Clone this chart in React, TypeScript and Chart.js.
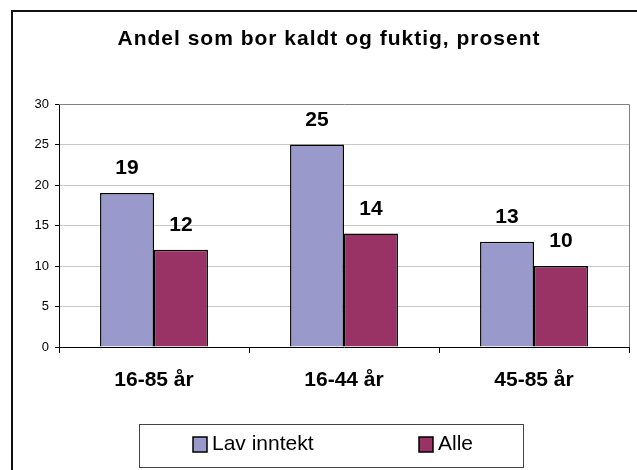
import React, { useEffect, useRef } from "react";
import { Chart, registerables } from "chart.js";

Chart.register(...registerables);

const TITLE = "Andel som bor kaldt og fuktig, prosent";
const categories = ["16-85 år", "16-44 år", "45-85 år"];
const seriesNames = ["Lav inntekt", "Alle"];
const lavInntekt = [19, 25, 13];
const alle = [12, 14, 10];
const seriesColors = ["#9999CC", "#993366"];
const yTicks = [0, 5, 10, 15, 20, 25, 30];

const FONT = "'Liberation Sans', Arial, sans-serif";

const decorPlugin = {
  id: "decor",
  afterDraw(chart: any) {
    const ctx = chart.ctx as CanvasRenderingContext2D;
    const area = chart.chartArea;
    ctx.save();

    // plot border top & right
    ctx.strokeStyle = "#808080";
    ctx.lineWidth = 1;
    ctx.beginPath();
    ctx.moveTo(area.left, area.top + 0.5);
    ctx.lineTo(area.right + 0.5, area.top + 0.5);
    ctx.lineTo(area.right + 0.5, area.bottom);
    ctx.stroke();

    // title
    ctx.fillStyle = "#000";
    ctx.font = `bold 21px ${FONT}`;
    (ctx as any).letterSpacing = "1px";
    ctx.textAlign = "center";
    ctx.textBaseline = "alphabetic";
    ctx.fillText(TITLE, 329, 45);
    (ctx as any).letterSpacing = "0px";

    // data labels
    ctx.font = `bold 21px ${FONT}`;
    chart.data.datasets.forEach((ds: any, di: number) => {
      const meta = chart.getDatasetMeta(di);
      meta.data.forEach((el: any, i: number) => {
        ctx.fillText(String(ds.data[i]), el.x, el.y - 19);
      });
    });

    // legend
    ctx.strokeStyle = "#444";
    ctx.lineWidth = 1;
    ctx.strokeRect(139.5, 424.5, 384, 43);
    const itemX = [193, 419];
    ctx.font = `21px ${FONT}`;
    ctx.textAlign = "left";
    chart.data.datasets.forEach((ds: any, di: number) => {
      const x = itemX[di];
      ctx.fillStyle = ds.backgroundColor;
      ctx.fillRect(x, 437, 14, 15);
      ctx.strokeStyle = "#000";
      ctx.lineWidth = 1.5;
      ctx.strokeRect(x, 437, 14, 15);
      ctx.fillStyle = "#000";
      ctx.fillText(ds.label, x + 19, 450);
    });

    // outer frame
    ctx.fillStyle = "#111";
    ctx.fillRect(11, 10, 2, 460);
    ctx.fillRect(11, 10, 626, 2);

    ctx.restore();
  },
};

export default function App() {
  const ref = useRef<HTMLCanvasElement | null>(null);
  useEffect(() => {
    if (!ref.current) return;
    const chart = new Chart(ref.current, {
      type: "bar",
      data: {
        labels: categories,
        datasets: [
          {
            label: seriesNames[0],
            data: lavInntekt,
            backgroundColor: seriesColors[0],
            borderColor: "#000",
            borderWidth: 1.5,
            categoryPercentage: 0.568,
            barPercentage: 1,
          },
          {
            label: seriesNames[1],
            data: alle,
            backgroundColor: seriesColors[1],
            borderColor: "#000",
            borderWidth: 1.5,
            categoryPercentage: 0.568,
            barPercentage: 1,
          },
        ],
      },
      options: {
        animation: false,
        responsive: false,
        maintainAspectRatio: false,
        layout: { padding: { top: 104, right: 8, bottom: 0, left: 0 } },
        plugins: {
          legend: { display: false },
          title: { display: false },
          tooltip: { enabled: false },
        },
        scales: {
          x: {
            offset: true,
            grid: {
              drawOnChartArea: false,
              drawTicks: true,
              tickLength: 6,
              color: "#000",
            },
            border: { display: true, color: "#000", width: 1 },
            ticks: {
              color: "#000",
              font: { family: FONT, size: 21, weight: "bold" },
              padding: 15,
            },
            afterFit: (s: any) => {
              s.height = 123;
            },
          },
          y: {
            min: 0,
            max: 30,
            afterBuildTicks: (s: any) => {
              s.ticks = yTicks.map((v) => ({ value: v }));
            },
            grid: {
              color: (c: any) =>
                c.tick && (c.tick.value === 0 || c.tick.value === 30)
                  ? "rgba(0,0,0,0)"
                  : "#C8C8C8",
              tickColor: "#000",
              tickLength: 4,
              lineWidth: 1,
            },
            border: { display: true, color: "#000", width: 1 },
            ticks: {
              color: "#000",
              font: { family: FONT, size: 13 },
              padding: 6,
            },
            afterFit: (s: any) => {
              s.width = 59;
            },
          },
        },
      },
      plugins: [decorPlugin],
    } as any);
    return () => chart.destroy();
  }, []);
  return (
    <div
      style={{
        position: "fixed",
        left: 0,
        top: 0,
        width: 637,
        height: 470,
        background: "#fff",
      }}
    >
      <canvas ref={ref} width={637} height={470} />
    </div>
  );
}
